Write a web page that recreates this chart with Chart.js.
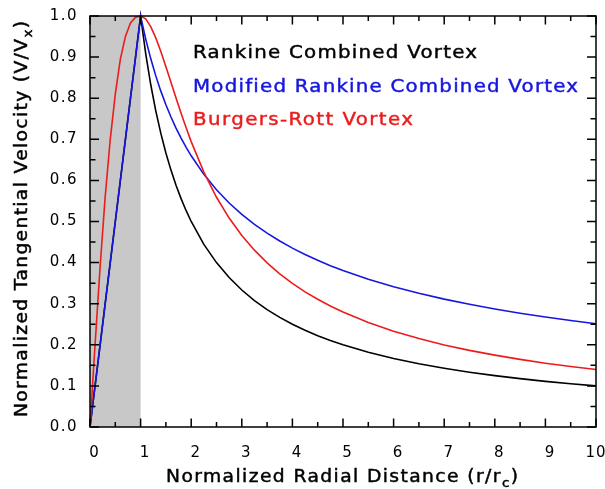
<!DOCTYPE html>
<html>
<head>
<meta charset="utf-8">
<title>Vortex tangential velocity profiles</title>
<script src="https://cdn.jsdelivr.net/npm/chart.js@4.4.1/dist/chart.umd.min.js"></script>
<style>
  html, body { margin: 0; padding: 0; background: #fff; }
  #wrap { width: 605px; height: 489px; }
</style>
</head>
<body>
<div id="wrap"><canvas id="vortexChart" width="605" height="489"></canvas></div>
<script>
// radial distance, normalized by core radius (r/rc)
var radius = [0, 0.1, 0.2, 0.3, 0.4, 0.5, 0.6, 0.7, 0.8, 0.9, 1.0,
    1.1, 1.2, 1.3, 1.4, 1.5, 1.6, 1.7, 1.8, 1.9, 2.0,
    2.25, 2.5, 2.75, 3.0, 3.25, 3.5, 3.75, 4.0, 4.25, 4.5, 4.75, 5.0,
    5.5, 6.0, 6.5, 7.0, 7.5, 8.0, 8.5, 9.0, 9.5, 10.0];

// tangential velocity, normalized by the peak (V/Vx)
var rankine = [0, 0.1, 0.2, 0.3, 0.4, 0.5, 0.6, 0.7, 0.8, 0.9, 1.0,
    0.9091, 0.8333, 0.7692, 0.7143, 0.6667, 0.625, 0.5882, 0.5556, 0.5263, 0.5,
    0.4444, 0.4, 0.3636, 0.3333, 0.3077, 0.2857, 0.2667, 0.25, 0.2353, 0.2222, 0.2105, 0.2,
    0.1818, 0.1667, 0.1538, 0.1429, 0.1333, 0.125, 0.1176, 0.1111, 0.1053, 0.1];

var modifiedRankine = [0, 0.1, 0.2, 0.3, 0.4, 0.5, 0.6, 0.7, 0.8, 0.9, 1.0,
    0.9444, 0.8964, 0.8543, 0.8172, 0.7841, 0.7543, 0.7273, 0.7028, 0.6804, 0.6598,
    0.6147, 0.5771, 0.545, 0.5173, 0.493, 0.4716, 0.4525, 0.4353, 0.4197, 0.4056, 0.3926, 0.3807,
    0.3596, 0.3413, 0.3253, 0.3111, 0.2985, 0.2872, 0.2769, 0.2676, 0.2591, 0.2512];

var burgersRott = [0, 0.2, 0.39, 0.56, 0.70, 0.81, 0.895, 0.95, 0.983, 0.997, 1.0,
    0.993, 0.9742, 0.9467, 0.9135, 0.8768, 0.8387, 0.8006, 0.7634, 0.7279, 0.6944,
    0.6203, 0.559, 0.5083, 0.466, 0.4302, 0.3994, 0.3728, 0.3495, 0.3289, 0.3107, 0.2943, 0.2796,
    0.2542, 0.233, 0.2151, 0.1997, 0.1864, 0.1748, 0.1645, 0.1553, 0.1472, 0.1398];

var seriesNames = ['Rankine Combined Vortex', 'Modified Rankine Combined Vortex', 'Burgers-Rott Vortex'];
var seriesColors = ['#000000', '#1616e0', '#ec1c1c'];
var coreRadius = 1;

function points(ys) {
    return radius.map(function(r, i) { return { x: r, y: ys[i] }; });
}

// draws text widened to a given width; parts may be subscripts
function spacedText(ctx, parts, x, y, width, size, color) {
    var sx = 1.1;
    ctx.save();
    ctx.translate(x, y);
    ctx.scale(sx, 1);
    ctx.fillStyle = color;
    ctx.strokeStyle = color;
    ctx.lineWidth = 0.45;
    ctx.textBaseline = 'alphabetic';
    ctx.textAlign = 'left';
    ctx.letterSpacing = '0px';
    var natural = 0, count = 0;
    parts.forEach(function(p) {
        ctx.font = (p.sub ? size * 0.72 : size) + 'px "DejaVu Sans"';
        natural += ctx.measureText(p.text).width;
        count += p.text.length;
    });
    var gap = (width / sx - natural) / (count - 1);
    ctx.letterSpacing = gap + 'px';
    var cx = 0;
    parts.forEach(function(p) {
        var ty = p.sub ? size * 0.3 : 0;
        ctx.font = (p.sub ? size * 0.72 : size) + 'px "DejaVu Sans"';
        ctx.fillText(p.text, cx, ty);
        ctx.strokeText(p.text, cx, ty);
        cx += ctx.measureText(p.text).width;
    });
    ctx.restore();
}

var framePlugin = {
    id: 'framePlugin',
    beforeDraw: function(chart) {
        chart.ctx.letterSpacing = '1.5px';
    },
    beforeDatasetsDraw: function(chart) {
        var a = chart.chartArea, xs = chart.scales.x, ctx = chart.ctx;
        var x0 = xs.getPixelForValue(0), x1 = xs.getPixelForValue(coreRadius);
        ctx.save();
        ctx.fillStyle = '#c8c8c8';
        ctx.fillRect(x0, a.top, x1 - x0, a.bottom - a.top);
        ctx.restore();
    },
    afterDatasetsDraw: function(chart) {
        var a = chart.chartArea, xs = chart.scales.x, ys = chart.scales.y, ctx = chart.ctx;
        ctx.save();
        ctx.strokeStyle = '#000';
        ctx.lineWidth = 1.5;
        ctx.strokeRect(a.left, a.top, a.right - a.left, a.bottom - a.top);
        ctx.beginPath();
        xs.ticks.forEach(function(t) {
            var px = xs.getPixelForValue(t.value);
            var len = Number.isInteger(t.value) ? 8.5 : 5;
            ctx.moveTo(px, a.bottom); ctx.lineTo(px, a.bottom - len);
            ctx.moveTo(px, a.top); ctx.lineTo(px, a.top + len);
        });
        ys.ticks.forEach(function(t) {
            var py = ys.getPixelForValue(t.value);
            var len = Math.round(t.value * 20) % 2 === 0 ? 9 : 5.5;
            ctx.moveTo(a.left, py); ctx.lineTo(a.left + len, py);
            ctx.moveTo(a.right, py); ctx.lineTo(a.right - len, py);
        });
        ctx.stroke();

        // x tick labels, single digits sit a little right of their tick
        ctx.fillStyle = '#000';
        ctx.font = '15px "DejaVu Sans"';
        ctx.textAlign = 'center';
        ctx.textBaseline = 'alphabetic';
        ctx.letterSpacing = '1px';
        xs.ticks.forEach(function(t) {
            if (!Number.isInteger(t.value)) return;
            var label = String(t.value);
            var px = xs.getPixelForValue(t.value) + (label.length === 1 ? 4.5 : 0);
            ctx.fillText(label, px, a.bottom + 30);
        });
        ctx.restore();
    },
    afterDraw: function(chart) {
        var ctx = chart.ctx;
        // legend written inside the plot
        spacedText(ctx, [{ text: seriesNames[0] }], 193, 58, 284, 18, seriesColors[0]);
        spacedText(ctx, [{ text: seriesNames[1] }], 193, 92, 385, 18, seriesColors[1]);
        spacedText(ctx, [{ text: seriesNames[2] }], 193, 125, 220, 18, seriesColors[2]);

        // axis titles
        spacedText(ctx, [{ text: 'Normalized Radial Distance (r/r' }, { text: 'c', sub: true }, { text: ')' }],
            166, 481.5, 352, 17, '#000');
        ctx.save();
        ctx.translate(27, 417);
        ctx.rotate(-Math.PI / 2);
        spacedText(ctx, [{ text: 'Normalized Tangential Velocity (V/V' }, { text: 'x', sub: true }, { text: ')' }],
            0, 0, 396, 17, '#000');
        ctx.restore();
    }
};

var ctx = document.getElementById('vortexChart').getContext('2d');
var vortexChart = new Chart(ctx, {
    type: 'line',
    data: {
        datasets: [{
            label: seriesNames[2],
            data: points(burgersRott),
            borderColor: seriesColors[2],
            borderWidth: 1.6,
            order: 1
        }, {
            label: seriesNames[1],
            data: points(modifiedRankine),
            borderColor: seriesColors[1],
            borderWidth: 1.6,
            order: 2
        }, {
            label: seriesNames[0],
            data: points(rankine),
            borderColor: seriesColors[0],
            borderWidth: 1.6,
            order: 3
        }]
    },
    options: {
        responsive: false,
        animation: false,
        events: [],
        clip: false,
        layout: { padding: { top: 16, right: 9, left: 0, bottom: 0 } },
        elements: {
            point: { radius: 0 },
            line: { tension: 0, fill: false }
        },
        plugins: {
            legend: { display: false },
            tooltip: { enabled: false }
        },
        scales: {
            x: {
                type: 'linear',
                min: 0,
                max: 10,
                grid: { display: false, drawTicks: false },
                border: { display: false },
                ticks: {
                    display: false,
                    stepSize: 0.5,
                    autoSkip: false,
                    maxRotation: 0
                },
                afterFit: function(s) {
                    s.height = 62;
                    s.paddingLeft = 0; s.paddingRight = 0;
                }
            },
            y: {
                min: 0,
                max: 1,
                grid: { display: false, drawTicks: false },
                border: { display: false },
                ticks: {
                    stepSize: 0.05,
                    autoSkip: false,
                    padding: 12,
                    color: '#000',
                    font: { family: 'DejaVu Sans', size: 15 },
                    callback: function(v) { return Math.round(v * 20) % 2 === 0 ? v.toFixed(1) : ''; }
                },
                afterFit: function(s) {
                    s.width = 90;
                    s.paddingTop = 0; s.paddingBottom = 0;
                }
            }
        }
    },
    plugins: [framePlugin]
});
</script>
</body>
</html>
